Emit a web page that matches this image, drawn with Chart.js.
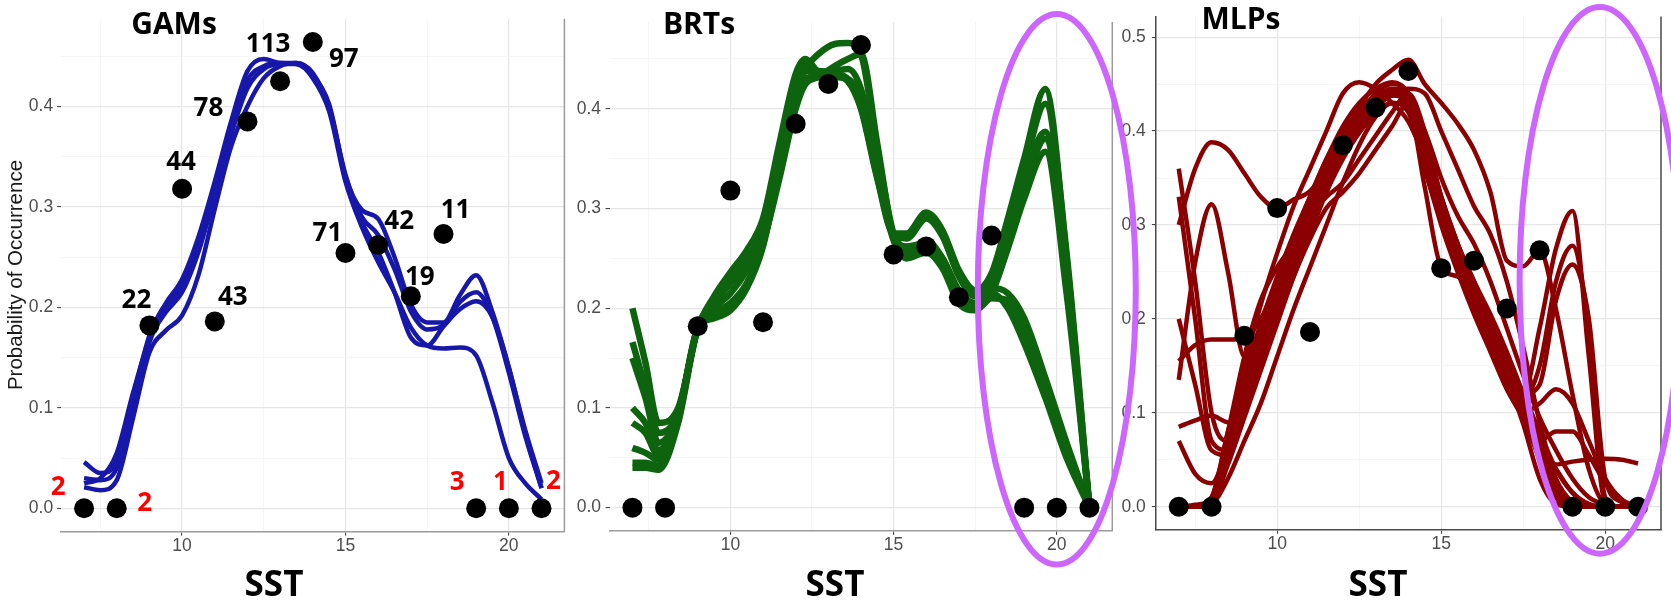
<!DOCTYPE html>
<html>
<head>
<meta charset="utf-8">
<title>Probability of occurrence vs SST</title>
<script src="https://cdn.jsdelivr.net/npm/chart.js@4.4.1/dist/chart.umd.min.js"></script>
<style>
  html, body { margin: 0; padding: 0; background: #fff; }
  #stage { position: relative; width: 1671px; height: 605px; overflow: hidden; }
  #stage canvas { position: absolute; left: 0; top: 0; }
</style>
</head>
<body>
<div id="stage">
  <canvas id="gam_chart" width="1671" height="605"></canvas>
  <canvas id="brt_chart" width="1671" height="605"></canvas>
  <canvas id="mlp_chart" width="1671" height="605"></canvas>
</div>
<script>
// Observed occurrence per SST bin (same points in every panel)
const sst = [7, 8, 9, 10, 11, 12, 13, 14, 15, 16, 17, 18, 19, 20, 21];
const occurrence = [0, 0, 0.182, 0.318, 0.186, 0.385, 0.425, 0.464, 0.254, 0.262, 0.211, 0.273, 0, 0, 0];
const sampleSize = [2, 2, 22, 44, 43, 78, 113, 97, 71, 42, 19, 11, 3, 1, 2];

// Axis ticks
const xTicks = [7.5, 10, 12.5, 15, 17.5, 20];
const xTickLabels = ['', '10', '', '15', '', '20'];
const yTicks = [0, 0.05, 0.1, 0.15, 0.2, 0.25, 0.3, 0.35, 0.4, 0.45];
const yTickLabels = ['0.0', '', '0.1', '', '0.2', '', '0.3', '', '0.4', ''];
const yTicksMlp = [0, 0.05, 0.1, 0.15, 0.2, 0.25, 0.3, 0.35, 0.4, 0.45, 0.5];
const yTickLabelsMlp = ['0.0', '', '0.1', '', '0.2', '', '0.3', '', '0.4', '', '0.5'];

// Fitted response curves, GAMs and MLPs sampled on this grid
const curveSST = [7, 7.5, 8, 8.5, 9, 9.5, 10, 10.5, 11, 11.5, 12, 12.5, 13, 13.5, 14,
                  14.5, 15, 15.5, 16, 16.5, 17, 17.5, 18, 18.5, 19, 19.5, 20, 20.5, 21];

const gam1 = [0.046, 0.035, 0.046, 0.11, 0.172, 0.204, 0.228, 0.27, 0.325, 0.385, 0.435, 0.447, 0.443, 0.442, 0.43,
              0.402, 0.33, 0.297, 0.288, 0.25, 0.203, 0.185, 0.185, 0.212, 0.232, 0.195, 0.14, 0.078, 0.025];
const gam2 = [0.021, 0.018, 0.028, 0.09, 0.155, 0.177, 0.192, 0.232, 0.298, 0.36, 0.4, 0.428, 0.44, 0.443, 0.433,
              0.398, 0.33, 0.285, 0.255, 0.215, 0.17, 0.162, 0.181, 0.198, 0.206, 0.19, 0.14, 0.075, 0.02];
const gam3 = [0.025, 0.03, 0.055, 0.115, 0.168, 0.195, 0.215, 0.255, 0.312, 0.372, 0.418, 0.437, 0.442, 0.442, 0.428,
              0.395, 0.325, 0.28, 0.245, 0.215, 0.18, 0.162, 0.159, 0.16, 0.152, 0.105, 0.05, 0.025, 0.009];
const gam4 = [0.03, 0.028, 0.04, 0.1, 0.165, 0.198, 0.222, 0.262, 0.318, 0.378, 0.426, 0.44, 0.443, 0.443, 0.432,
              0.4, 0.332, 0.29, 0.272, 0.238, 0.196, 0.178, 0.182, 0.205, 0.215, 0.19, 0.135, 0.072, 0.02];

// BRT curves use their own grid (sharp peak near 19.65)
const brtSST = [7, 7.4, 7.8, 8.4, 9, 9.5, 10, 10.5, 11, 11.5, 12, 12.3, 12.7, 13.2, 13.6,
                14, 14.5, 15, 15.4, 16, 16.5, 17, 17.5, 18, 18.5, 19, 19.65, 20.3, 21];
const brt1 = [0.2, 0.145, 0.085, 0.1, 0.18, 0.212, 0.236, 0.258, 0.29, 0.365, 0.435, 0.45, 0.437, 0.434, 0.428,
              0.4, 0.33, 0.275, 0.275, 0.296, 0.278, 0.238, 0.218, 0.235, 0.29, 0.35, 0.42, 0.25, 0];
const brt2 = [0.166, 0.12, 0.075, 0.095, 0.18, 0.205, 0.225, 0.245, 0.275, 0.345, 0.415, 0.44, 0.455, 0.465, 0.466,
              0.455, 0.36, 0.275, 0.262, 0.265, 0.25, 0.218, 0.205, 0.225, 0.275, 0.33, 0.377, 0.23, 0];
const brt3 = [0.15, 0.11, 0.065, 0.095, 0.18, 0.195, 0.205, 0.225, 0.265, 0.33, 0.4, 0.425, 0.432, 0.443, 0.45,
              0.455, 0.365, 0.27, 0.252, 0.258, 0.245, 0.212, 0.2, 0.215, 0.26, 0.31, 0.357, 0.215, 0];
const brt4 = [0.1, 0.085, 0.058, 0.092, 0.18, 0.19, 0.198, 0.22, 0.262, 0.34, 0.41, 0.43, 0.433, 0.433, 0.428,
              0.405, 0.335, 0.268, 0.25, 0.256, 0.24, 0.205, 0.198, 0.21, 0.208, 0.18, 0.12, 0.06, 0];
const brt5 = [0.06, 0.055, 0.048, 0.09, 0.18, 0.208, 0.23, 0.252, 0.285, 0.36, 0.425, 0.44, 0.438, 0.436, 0.43,
              0.41, 0.34, 0.272, 0.255, 0.262, 0.245, 0.21, 0.2, 0.215, 0.2, 0.165, 0.11, 0.05, 0];
const brt6 = [0.085, 0.075, 0.052, 0.095, 0.18, 0.21, 0.232, 0.255, 0.288, 0.36, 0.43, 0.446, 0.436, 0.433, 0.428,
              0.402, 0.332, 0.274, 0.27, 0.29, 0.272, 0.232, 0.212, 0.23, 0.285, 0.34, 0.405, 0.255, 0];
const brt7 = [0.045, 0.045, 0.042, 0.088, 0.18, 0.192, 0.2, 0.222, 0.265, 0.335, 0.405, 0.428, 0.432, 0.432, 0.43,
              0.408, 0.338, 0.27, 0.252, 0.26, 0.243, 0.208, 0.2, 0.22, 0.215, 0.19, 0.13, 0.065, 0];
const brt8 = [0.04, 0.04, 0.038, 0.085, 0.18, 0.2, 0.215, 0.238, 0.272, 0.35, 0.42, 0.438, 0.437, 0.438, 0.44,
              0.42, 0.345, 0.272, 0.258, 0.268, 0.25, 0.215, 0.205, 0.222, 0.27, 0.32, 0.37, 0.228, 0];

const mlp1 = [0, 0, 0.005, 0.06, 0.113, 0.167, 0.217, 0.264, 0.307, 0.346, 0.383, 0.41, 0.43, 0.442, 0.432,
              0.36, 0.305, 0.26, 0.217, 0.178, 0.137, 0.088, 0.03, 0.003, 0, 0, 0, 0, 0];
const mlp2 = [0, 0, 0.01, 0.08, 0.14, 0.195, 0.245, 0.29, 0.33, 0.37, 0.405, 0.43, 0.445, 0.452, 0.44,
              0.39, 0.33, 0.28, 0.235, 0.195, 0.155, 0.11, 0.06, 0.015, 0, 0, 0, 0, 0];
const mlp3 = [0, 0, 0.004, 0.045, 0.095, 0.145, 0.195, 0.245, 0.29, 0.335, 0.375, 0.405, 0.425, 0.438, 0.44,
              0.38, 0.32, 0.275, 0.235, 0.198, 0.16, 0.12, 0.07, 0.02, 0.004, 0, 0, 0, 0];
const mlp4 = [0, 0, 0.006, 0.07, 0.13, 0.185, 0.235, 0.28, 0.322, 0.36, 0.395, 0.425, 0.45, 0.465, 0.476,
              0.45, 0.43, 0.408, 0.38, 0.335, 0.262, 0.256, 0.273, 0.21, 0.12, 0.04, 0.003, 0, 0];
const mlp5 = [0.3, 0.36, 0.388, 0.38, 0.355, 0.33, 0.318, 0.327, 0.336, 0.36, 0.39, 0.415, 0.435, 0.445, 0.44,
              0.39, 0.33, 0.28, 0.24, 0.2, 0.16, 0.11, 0.05, 0.01, 0, 0, 0, 0, 0];
const mlp6 = [0.135, 0.26, 0.322, 0.25, 0.16, 0.175, 0.215, 0.258, 0.3, 0.34, 0.375, 0.4, 0.42, 0.43, 0.425,
              0.375, 0.315, 0.265, 0.22, 0.18, 0.14, 0.12, 0.19, 0.275, 0.315, 0.16, 0.005, 0, 0];
const mlp7 = [0.36, 0.24, 0.1, 0.07, 0.12, 0.175, 0.23, 0.275, 0.318, 0.355, 0.39, 0.418, 0.44, 0.45, 0.44,
              0.38, 0.315, 0.27, 0.23, 0.19, 0.15, 0.115, 0.15, 0.24, 0.278, 0.19, 0.01, 0, 0];
const mlp8 = [0.33, 0.2, 0.07, 0.06, 0.11, 0.16, 0.21, 0.26, 0.305, 0.345, 0.38, 0.408, 0.428, 0.438, 0.428,
              0.37, 0.31, 0.265, 0.225, 0.185, 0.148, 0.12, 0.13, 0.22, 0.258, 0.2, 0.03, 0.005, 0];
const mlp9 = [0.155, 0.172, 0.178, 0.178, 0.18, 0.2, 0.24, 0.285, 0.325, 0.36, 0.395, 0.42, 0.438, 0.44, 0.425,
              0.365, 0.305, 0.255, 0.21, 0.17, 0.13, 0.1, 0.11, 0.125, 0.11, 0.07, 0.03, 0.008, 0];
const mlp10 = [0.085, 0.092, 0.097, 0.09, 0.1, 0.15, 0.205, 0.25, 0.295, 0.335, 0.37, 0.398, 0.418, 0.43, 0.42,
               0.36, 0.3, 0.25, 0.205, 0.165, 0.125, 0.095, 0.07, 0.08, 0.08, 0.055, 0.025, 0.005, 0];
const mlp11 = [0.07, 0.035, 0.025, 0.065, 0.12, 0.175, 0.225, 0.27, 0.312, 0.35, 0.388, 0.415, 0.432, 0.44, 0.43,
               0.37, 0.31, 0.262, 0.22, 0.18, 0.14, 0.1, 0.06, 0.045, 0.048, 0.05, 0.051, 0.05, 0.046];
const mlp12 = [0.2, 0.13, 0.06, 0.055, 0.11, 0.165, 0.215, 0.262, 0.305, 0.345, 0.382, 0.41, 0.43, 0.44, 0.43,
               0.365, 0.305, 0.26, 0.22, 0.182, 0.145, 0.105, 0.065, 0.04, 0.015, 0.002, 0, 0, 0];
const mlp13 = [0, 0.002, 0.01, 0.08, 0.16, 0.22, 0.255, 0.28, 0.31, 0.33, 0.345, 0.37, 0.395, 0.42, 0.44,
               0.4, 0.33, 0.28, 0.24, 0.205, 0.165, 0.12, 0.07, 0.02, 0.002, 0, 0, 0, 0];
const mlp14 = [0, 0, 0.008, 0.075, 0.15, 0.215, 0.27, 0.32, 0.36, 0.4, 0.44, 0.452, 0.445, 0.43, 0.41,
               0.37, 0.32, 0.275, 0.235, 0.195, 0.155, 0.11, 0.055, 0.01, 0, 0, 0, 0, 0];
const mlp15 = [0, 0, 0.004, 0.05, 0.1, 0.15, 0.2, 0.245, 0.285, 0.318, 0.335, 0.355, 0.38, 0.405, 0.43,
               0.4, 0.35, 0.31, 0.28, 0.24, 0.19, 0.14, 0.095, 0.06, 0.03, 0.01, 0.002, 0, 0];
const mlp16 = [0, 0, 0.006, 0.065, 0.12, 0.175, 0.225, 0.27, 0.31, 0.35, 0.388, 0.413, 0.432, 0.442, 0.43,
               0.34, 0.255, 0.245, 0.225, 0.19, 0.15, 0.1, 0.05, 0.02, 0.005, 0, 0, 0, 0];
const mlp17 = [0, 0, 0.003, 0.03, 0.07, 0.11, 0.16, 0.21, 0.255, 0.3, 0.345, 0.385, 0.415, 0.43, 0.425,
               0.37, 0.31, 0.265, 0.225, 0.19, 0.155, 0.12, 0.08, 0.04, 0.015, 0.003, 0, 0, 0];
const mlp18 = [0, 0, 0.005, 0.055, 0.11, 0.17, 0.23, 0.285, 0.33, 0.37, 0.4, 0.42, 0.432, 0.44, 0.445,
               0.44, 0.4, 0.36, 0.32, 0.29, 0.24, 0.17, 0.09, 0.03, 0.005, 0, 0, 0, 0];

// Where each count label sits relative to its point (px)
const labelOffsets = [[-26, -13], [28, 3], [-13, -17], [-1, -19], [18, -16], [-39, -5], [-12, -29], [31, 25],
                      [-18, -12], [21, -16], [9, -11], [12, -16], [-19, -18], [-8.5, -18], [12, -19]];

// Plot areas of the three panels (px on the page) and their ranges
const W = 1671, H = 605, Y_AXIS_W = 45, X_AXIS_H = 30;
const gamPanel = { left: 61.2, right: 564.4, top: 18.7, bottom: 531.6, yMin: -0.0232, yMax: 0.4872,
                   ticks: yTicks, labels: yTickLabels, tickPad: 4, axisLine: false, frame: '#9c9c9c' };
const brtPanel = { left: 609.6, right: 1112.3, top: 21.9, bottom: 530.8, yMin: -0.0232, yMax: 0.4872,
                   ticks: yTicks, labels: yTickLabels, tickPad: 4.6, axisLine: false, frame: '#9c9c9c' };
const mlpPanel = { left: 1155.8, right: 1664.6, top: 13.9, bottom: 529.8, yMin: -0.0246, yMax: 0.522,
                   ticks: yTicksMlp, labels: yTickLabelsMlp, tickPad: 6, axisLine: true, frame: '#4a4a4a' };

const TICK_FONT = { family: '"Liberation Sans", Arial, sans-serif', size: 17.5 };
const isMajorX = v => Math.abs(v % 5) < 1e-6;
const isMajorY = v => Math.abs(v * 10 - Math.round(v * 10)) < 1e-6;

function pointSet() {
  return {
    data: sst.map((x, i) => ({ x, y: occurrence[i] })),
    showLine: false, pointRadius: 10, pointBackgroundColor: '#000', pointBorderWidth: 0, order: 0
  };
}

function curveSet(xs, ys, color, width) {
  return {
    data: xs.map((x, i) => ({ x, y: ys[i] })),
    showLine: true, pointRadius: 0, borderColor: color, borderWidth: width,
    cubicInterpolationMode: 'monotone', fill: false, order: 1
  };
}

function gridOpts(isMajor) {
  return {
    color: c => (c.tick && isMajor(c.tick.value)) ? '#e6e6e6' : '#f2f2f2',
    lineWidth: c => (c.tick && isMajor(c.tick.value)) ? 1.2 : 0.7,
    tickColor: c => (c.tick && isMajor(c.tick.value)) ? '#333' : 'rgba(0,0,0,0)',
    tickWidth: 1,
    tickLength: 4
  };
}

function makeChart(id, p, datasets, plugins) {
  return new Chart(document.getElementById(id), {
    type: 'scatter',
    data: { datasets },
    options: {
      responsive: false,
      animation: false,
      devicePixelRatio: 1,
      events: [],
      layout: { padding: { left: p.left - Y_AXIS_W, right: W - p.right, top: p.top, bottom: H - p.bottom - X_AXIS_H } },
      plugins: { legend: { display: false }, tooltip: { enabled: false } },
      scales: {
        x: {
          type: 'linear', min: 6.3, max: 21.7, bounds: 'data',
          afterBuildTicks: s => { s.ticks = xTicks.map(v => ({ value: v })); },
          afterFit: s => { s.height = X_AXIS_H; },
          ticks: { callback: (v, i) => xTickLabels[i], font: TICK_FONT, color: '#4d4d4d',
                   padding: 0, maxRotation: 0, autoSkip: false },
          grid: gridOpts(isMajorX),
          border: { display: true, color: p.frame, width: 1.5 }
        },
        y: {
          type: 'linear', min: p.yMin, max: p.yMax, bounds: 'data',
          afterBuildTicks: s => { s.ticks = p.ticks.map(v => ({ value: v })); },
          afterFit: s => { s.width = Y_AXIS_W; },
          ticks: { callback: (v, i) => p.labels[i], font: TICK_FONT, color: '#4d4d4d',
                   padding: p.tickPad, autoSkip: false },
          grid: gridOpts(isMajorY),
          border: { display: p.axisLine, color: p.frame, width: 1.5 }
        }
      }
    },
    plugins
  });
}

function framePlugin(p) {
  return {
    id: 'frame',
    afterDraw(chart) {
      const { ctx, chartArea } = chart;
      ctx.save();
      ctx.strokeStyle = p.frame;
      ctx.lineWidth = 1.5;
      ctx.beginPath();
      ctx.moveTo(chartArea.right, chartArea.top);
      ctx.lineTo(chartArea.right, chartArea.bottom);
      ctx.stroke();
      ctx.restore();
    }
  };
}

function titlesPlugin(title, titleX, titleY, sstX) {
  return {
    id: 'titles',
    afterDraw(chart) {
      const ctx = chart.ctx;
      ctx.save();
      ctx.fillStyle = '#000';
      ctx.textAlign = 'center';
      ctx.textBaseline = 'alphabetic';
      ctx.font = 'bold 30px "Open Sans", sans-serif';
      ctx.fillText(title, titleX, titleY);
      ctx.font = 'bold 35px "Open Sans", sans-serif';
      ctx.fillText('SST', sstX, 596);
      ctx.restore();
    }
  };
}

const countLabels = {
  id: 'countLabels',
  afterDraw(chart) {
    const { ctx, scales } = chart;
    ctx.save();
    ctx.font = 'bold 26px "Open Sans", sans-serif';
    ctx.textAlign = 'center';
    ctx.textBaseline = 'alphabetic';
    sst.forEach((x, i) => {
      const px = scales.x.getPixelForValue(x) + labelOffsets[i][0];
      const py = scales.y.getPixelForValue(occurrence[i]) + labelOffsets[i][1];
      ctx.fillStyle = occurrence[i] === 0 ? '#ff0000' : '#000';
      ctx.fillText(String(sampleSize[i]), px, py);
    });
    // y axis title
    ctx.translate(16, 275);
    ctx.rotate(-Math.PI / 2);
    ctx.font = '20.5px "Liberation Sans", Arial, sans-serif';
    ctx.fillStyle = '#1a1a1a';
    ctx.textBaseline = 'middle';
    ctx.fillText('Probability of Occurrence', 0, 0);
    ctx.restore();
  }
};

// Highlight ellipses (data units of their panel)
const brtEllipse = { cx: 20.0, cy: 0.219, rx: 2.42, ry: 0.276 };
const mlpEllipse = { cx: 19.84, cy: 0.241, rx: 2.45, ry: 0.291 };

function strokeEllipse(ctx, chart, e) {
  const xs = chart.scales.x, ys = chart.scales.y;
  const cx = xs.getPixelForValue(e.cx), cy = ys.getPixelForValue(e.cy);
  const rx = xs.getPixelForValue(e.cx + e.rx) - cx;
  const ry = cy - ys.getPixelForValue(e.cy + e.ry);
  ctx.save();
  ctx.strokeStyle = '#cc66ff';
  ctx.lineWidth = 6;
  ctx.beginPath();
  ctx.ellipse(cx, cy, rx, ry, 0, 0, Math.PI * 2);
  ctx.stroke();
  ctx.restore();
}

// GAMs panel
const gamChart = makeChart('gam_chart', gamPanel,
  [pointSet()].concat([gam1, gam2, gam3, gam4].map(g => curveSet(curveSST, g, '#1717aa', 4.5))),
  [framePlugin(gamPanel), titlesPlugin('GAMs', 174, 34, 274), countLabels]);

// BRTs panel
const brtChart = makeChart('brt_chart', brtPanel,
  [pointSet()].concat([brt1, brt2, brt3, brt4, brt5, brt6, brt7, brt8].map(b => curveSet(brtSST, b, '#0e640e', 6.5))),
  [framePlugin(brtPanel), titlesPlugin('BRTs', 699, 34, 835)]);

// MLPs panel
const mlpCurves = [mlp1, mlp2, mlp3, mlp4, mlp5, mlp6, mlp7, mlp8, mlp9, mlp10, mlp11, mlp12,
                   mlp13, mlp14, mlp15, mlp16, mlp17, mlp18];
const mlpChart = makeChart('mlp_chart', mlpPanel,
  [pointSet()].concat(mlpCurves.map(m => curveSet(curveSST, m, '#8b0000', 4.5))),
  [framePlugin(mlpPanel), titlesPlugin('MLPs', 1241, 29, 1378),
   { id: 'ellipses', afterDraw(chart) {
       strokeEllipse(chart.ctx, brtChart, brtEllipse);
       strokeEllipse(chart.ctx, chart, mlpEllipse);
   } }]);
</script>
</body>
</html>
